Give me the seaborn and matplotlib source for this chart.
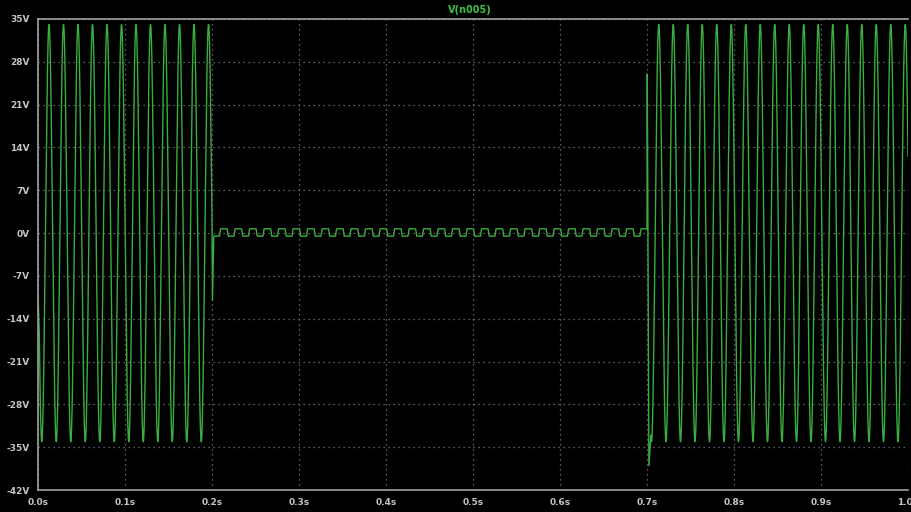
import numpy as np
import pandas as pd
import matplotlib
matplotlib.use("Agg")
import matplotlib.pyplot as plt
import seaborn as sns

# --- waveform values (LTspice trace V(n005)) ---
trace_name = "V(n005)"
freq_hz = 60.0                      # 12 peaks in 0.0-0.2s
amp_v = 34.1                        # peak level of the AC bursts
burst1_span = [0.0, 0.2]            # first burst
burst2_span = [0.7, 1.0]            # second burst
burst1_peak_t = 0.01266             # time of first positive peak
burst2_peak_t = 0.7135              # time of first positive peak after 0.7s

# start-up / switching transients (time s, volts)
start_t = [0.0, 0.0015]
start_v = [-10.0, -16.5]
switch1_t = [0.2005, 0.2019]
switch1_v = [-11.0, -0.5]
switch2_t = [0.7003, 0.7022]
switch2_v = [26.0, -38.0]

# small square ripple between bursts, one period shape (phase, volts)
ripple_span = [0.2019, 0.7]
ripple_phase = [0.0, 0.40, 0.47, 0.93, 1.0]
ripple_v = [-0.5, -0.5, 0.7, 0.7, -0.5]

y_ticks = [35, 28, 21, 14, 7, 0, -7, -14, -21, -28, -35, -42]
y_labels = ["35V", "28V", "21V", "14V", "7V", "0V", "-7V", "-14V", "-21V", "-28V", "-35V", "-42V"]
x_ticks = [0.0, 0.1, 0.2, 0.3, 0.4, 0.5, 0.6, 0.7, 0.8, 0.9, 1.0]
x_labels = ["0.0s", "0.1s", "0.2s", "0.3s", "0.4s", "0.5s", "0.6s", "0.7s", "0.8s", "0.9s", "1.0s"]

# --- build the trace ---
t1 = np.linspace(start_t[-1] + 0.0002, burst1_span[1], 4000)
v1 = amp_v * np.cos(2 * np.pi * freq_hz * (t1 - burst1_peak_t))

tr = np.linspace(ripple_span[0], ripple_span[1], 12000)
ph = ((tr - ripple_span[0]) * freq_hz) % 1.0
vr = np.interp(ph, ripple_phase, ripple_v)

t2 = np.linspace(0.7045, burst2_span[1], 6000)
v2 = amp_v * np.cos(2 * np.pi * freq_hz * (t2 - burst2_peak_t))

t_all = np.concatenate([start_t, t1, switch1_t, tr, switch2_t, t2])
v_all = np.concatenate([start_v, v1, switch1_v, vr, switch2_v, v2])
df = pd.DataFrame({"t": t_all, "v": v_all})

# --- style: LTspice-like black plot pane ---
sns.set_style("dark", {"axes.facecolor": "black", "figure.facecolor": "black"})
plt.rcParams["font.family"] = ["DejaVu Sans"]

fig = plt.figure(figsize=(9.12, 5.12), dpi=100)
ax = fig.add_axes([38 / 912, 22 / 512, 870 / 912, 471 / 512])
ax.set_facecolor("black")

sns.lineplot(data=df, x="t", y="v", sort=False, estimator=None,
             color="#3aad3f", linewidth=1.0, ax=ax)

ax.set_xlim(0.0, 1.0)
ax.set_ylim(-42, 35)
ax.set_xticks(x_ticks)
ax.set_xticklabels(x_labels)
ax.set_yticks(y_ticks)
ax.set_yticklabels(y_labels)
ax.set_xlabel("")
ax.set_ylabel("")

ax.grid(True, color="#7a7a7a", linestyle=(0, (1, 3)), linewidth=0.9)
ax.tick_params(axis="both", colors="#a0a0a0", labelcolor="#c4c4c4",
               length=4, width=1, direction="out", labelsize=6.5, pad=2)
for lab in ax.get_xticklabels() + ax.get_yticklabels():
    lab.set_fontweight("bold")

for side in ["left", "bottom", "top"]:
    ax.spines[side].set_visible(True)
    ax.spines[side].set_color("#a0a0a0")
    ax.spines[side].set_linewidth(1.2)
ax.spines["right"].set_visible(False)

fig.text(470 / 912, 1 - 10 / 512, trace_name, color="#3dc045", fontsize=7,
         fontweight="bold", ha="center", va="center")

fig.savefig("out.png", dpi=100, facecolor="black")
